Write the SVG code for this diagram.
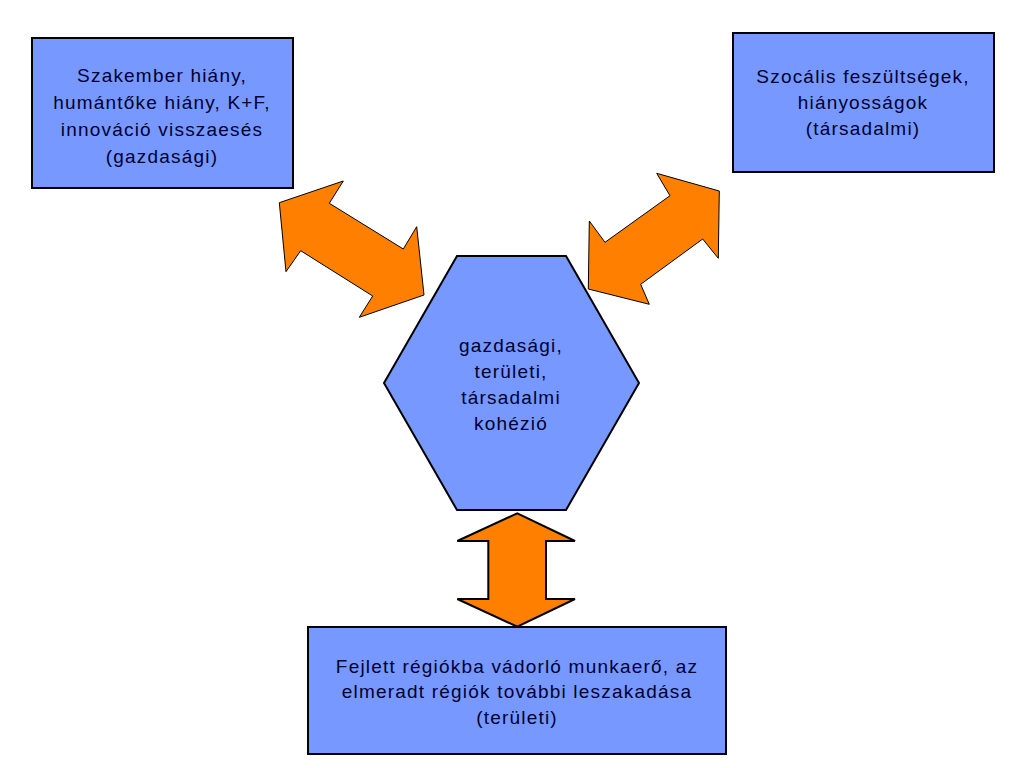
<svg xmlns="http://www.w3.org/2000/svg" width="1024" height="768" viewBox="0 0 1024 768">
<style>
.box{fill:#7799ff;stroke:#000;stroke-width:2}
.arr{fill:#ff8000;stroke:#000;stroke-width:1}
.arrb{fill:#ff8000;stroke:#000;stroke-width:2}
text{font-family:"Liberation Sans",Arial,sans-serif;font-size:19px;letter-spacing:1.2px;fill:#000033;text-anchor:middle}
</style>
<rect width="1024" height="768" fill="#fff"/>
<g id="connectors">
<polygon class="arr" points="279.3,202.7 343.3,181 329.3,203.3 403.3,249 416.7,226.7 424,295 359.3,317.3 372.7,296 300.7,250.7 286,271.7"/>
<polygon class="arr" points="719.3,191 718.3,258.3 702.7,239 640.7,284.3 649.3,304.3 588.3,289 589.3,221 605,242.3 670,195.7 656.7,173.3"/>
<polygon class="arrb" points="517.3,513.3 575,541 546,541 546,599 575,599 517.3,626.7 457.3,599 488.3,599 488.3,541 457.3,541"/>
</g>
<g id="node-gazdasagi">
<rect class="box" x="32" y="38" width="261" height="150"/>
<text x="162" y="82">Szakember hiány,</text>
<text x="162" y="109">humántőke hiány, K+F,</text>
<text x="162" y="136">innováció visszaesés</text>
<text x="162" y="163">(gazdasági)</text>
</g>
<g id="node-tarsadalmi">
<rect class="box" x="733" y="33" width="261" height="139"/>
<text x="863" y="83">Szocális feszültségek,</text>
<text x="863" y="109">hiányosságok</text>
<text x="863" y="135">(társadalmi)</text>
</g>
<g id="node-kohezio">
<polygon class="box" points="457,256 566,256 639,383 566,510 457,510 384,383"/>
<text x="511" y="352">gazdasági,</text>
<text x="511" y="378">területi,</text>
<text x="511" y="404">társadalmi</text>
<text x="511" y="430">kohézió</text>
</g>
<g id="node-teruleti">
<rect class="box" x="308" y="627" width="418" height="127"/>
<text x="517" y="673">Fejlett régiókba vádorló munkaerő, az</text>
<text x="517" y="698">elmeradt régiók további leszakadása</text>
<text x="517" y="724">(területi)</text>
</g>
</svg>
